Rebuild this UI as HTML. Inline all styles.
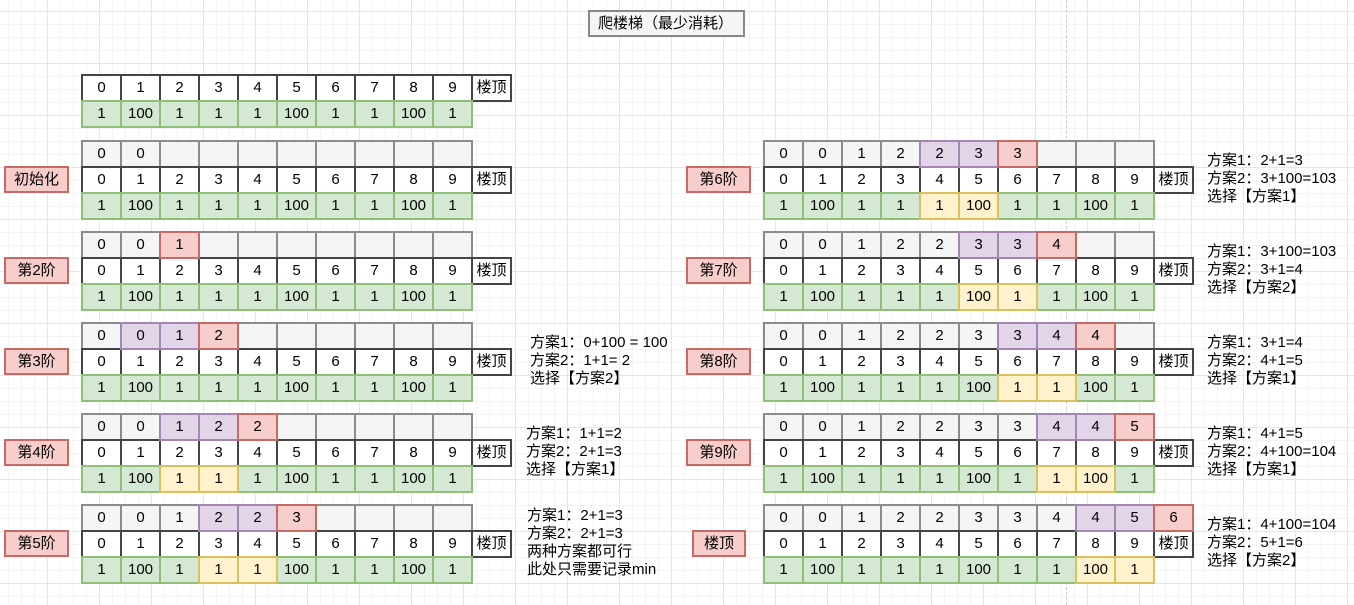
<!DOCTYPE html>
<html><head><meta charset="utf-8"><style>
body{margin:0;width:1354px;height:605px;overflow:hidden;position:relative;background:#fff;
background-image:linear-gradient(#e6e6e6 1px,transparent 1px),linear-gradient(90deg,#e6e6e6 1px,transparent 1px),linear-gradient(#f4f4f4 1px,transparent 1px),linear-gradient(90deg,#f4f4f4 1px,transparent 1px);
background-size:52px 52px,52px 52px,13px 13px,13px 13px;background-position:-3px 11px,-5px 11px,-3px 11px,-5px 11px;font-family:"Liberation Sans","Noto Sans CJK SC",sans-serif;color:#000}
.b{position:absolute}
.r{display:flex;height:28px;margin-bottom:-2px}
.c{width:41px;height:28px;margin-right:-2px;border:2px solid;box-sizing:border-box;text-align:center;line-height:24px;font-size:15px;position:relative}
.d{background:#f5f5f5;border-color:#8c8c8c}
.i{background:#fff;border-color:#444}
.g{background:#d5e8d4;border-color:#90bf78}
.p{background:#e1d5e7;border-color:#a386b3;z-index:2}
.x{background:#f8cecc;border-color:#c66a66;z-index:3}
.y{background:#fff2cc;border-color:#dcc060;z-index:2}
.lb{position:absolute;width:65px;height:27px;background:#f8cecc;border:2px solid #c66a66;box-sizing:border-box;text-align:center;line-height:23px;font-size:15px}
.t{position:absolute;font-size:15px;line-height:18px;white-space:nowrap}
</style></head><body>
<div style="position:absolute;left:1066px;top:0;height:605px;border-left:1px dashed #ccc"></div>
<div style="position:absolute;left:588px;top:10px;width:157px;height:27px;background:#f5f5f5;border:2px solid #888;box-sizing:border-box;font-size:15px;line-height:23px;padding-left:8px">爬楼梯（最少消耗）</div>

<div class="b" style="left:81px;top:74px">
<div class="r"><div class="c i">0</div><div class="c i">1</div><div class="c i">2</div><div class="c i">3</div><div class="c i">4</div><div class="c i">5</div><div class="c i">6</div><div class="c i">7</div><div class="c i">8</div><div class="c i">9</div><div class="c i">楼顶</div></div>
<div class="r"><div class="c g">1</div><div class="c g">100</div><div class="c g">1</div><div class="c g">1</div><div class="c g">1</div><div class="c g">100</div><div class="c g">1</div><div class="c g">1</div><div class="c g">100</div><div class="c g">1</div></div>
</div>

<div class="lb" style="left:4px;top:166px">初始化</div>
<div class="b" style="left:81px;top:140px">
<div class="r"><div class="c d">0</div><div class="c d">0</div><div class="c d"></div><div class="c d"></div><div class="c d"></div><div class="c d"></div><div class="c d"></div><div class="c d"></div><div class="c d"></div><div class="c d"></div></div>
<div class="r"><div class="c i">0</div><div class="c i">1</div><div class="c i">2</div><div class="c i">3</div><div class="c i">4</div><div class="c i">5</div><div class="c i">6</div><div class="c i">7</div><div class="c i">8</div><div class="c i">9</div><div class="c i">楼顶</div></div>
<div class="r"><div class="c g">1</div><div class="c g">100</div><div class="c g">1</div><div class="c g">1</div><div class="c g">1</div><div class="c g">100</div><div class="c g">1</div><div class="c g">1</div><div class="c g">100</div><div class="c g">1</div></div>
</div>

<div class="lb" style="left:4px;top:257px">第2阶</div>
<div class="b" style="left:81px;top:231px">
<div class="r"><div class="c d">0</div><div class="c d">0</div><div class="c x">1</div><div class="c d"></div><div class="c d"></div><div class="c d"></div><div class="c d"></div><div class="c d"></div><div class="c d"></div><div class="c d"></div></div>
<div class="r"><div class="c i">0</div><div class="c i">1</div><div class="c i">2</div><div class="c i">3</div><div class="c i">4</div><div class="c i">5</div><div class="c i">6</div><div class="c i">7</div><div class="c i">8</div><div class="c i">9</div><div class="c i">楼顶</div></div>
<div class="r"><div class="c g">1</div><div class="c g">100</div><div class="c g">1</div><div class="c g">1</div><div class="c g">1</div><div class="c g">100</div><div class="c g">1</div><div class="c g">1</div><div class="c g">100</div><div class="c g">1</div></div>
</div>

<div class="lb" style="left:4px;top:348px">第3阶</div>
<div class="b" style="left:81px;top:322px">
<div class="r"><div class="c d">0</div><div class="c p">0</div><div class="c p">1</div><div class="c x">2</div><div class="c d"></div><div class="c d"></div><div class="c d"></div><div class="c d"></div><div class="c d"></div><div class="c d"></div></div>
<div class="r"><div class="c i">0</div><div class="c i">1</div><div class="c i">2</div><div class="c i">3</div><div class="c i">4</div><div class="c i">5</div><div class="c i">6</div><div class="c i">7</div><div class="c i">8</div><div class="c i">9</div><div class="c i">楼顶</div></div>
<div class="r"><div class="c g">1</div><div class="c g">100</div><div class="c g">1</div><div class="c g">1</div><div class="c g">1</div><div class="c g">100</div><div class="c g">1</div><div class="c g">1</div><div class="c g">100</div><div class="c g">1</div></div>
</div>
<div class="t" style="left:530px;top:334px">方案1：0+100 = 100<br>方案2：1+1= 2<br>选择【方案2】</div>

<div class="lb" style="left:4px;top:439px">第4阶</div>
<div class="b" style="left:81px;top:413px">
<div class="r"><div class="c d">0</div><div class="c d">0</div><div class="c p">1</div><div class="c p">2</div><div class="c x">2</div><div class="c d"></div><div class="c d"></div><div class="c d"></div><div class="c d"></div><div class="c d"></div></div>
<div class="r"><div class="c i">0</div><div class="c i">1</div><div class="c i">2</div><div class="c i">3</div><div class="c i">4</div><div class="c i">5</div><div class="c i">6</div><div class="c i">7</div><div class="c i">8</div><div class="c i">9</div><div class="c i">楼顶</div></div>
<div class="r"><div class="c g">1</div><div class="c g">100</div><div class="c y">1</div><div class="c y">1</div><div class="c g">1</div><div class="c g">100</div><div class="c g">1</div><div class="c g">1</div><div class="c g">100</div><div class="c g">1</div></div>
</div>
<div class="t" style="left:526px;top:425px">方案1：1+1=2<br>方案2：2+1=3<br>选择【方案1】</div>

<div class="lb" style="left:4px;top:530px">第5阶</div>
<div class="b" style="left:81px;top:504px">
<div class="r"><div class="c d">0</div><div class="c d">0</div><div class="c d">1</div><div class="c p">2</div><div class="c p">2</div><div class="c x">3</div><div class="c d"></div><div class="c d"></div><div class="c d"></div><div class="c d"></div></div>
<div class="r"><div class="c i">0</div><div class="c i">1</div><div class="c i">2</div><div class="c i">3</div><div class="c i">4</div><div class="c i">5</div><div class="c i">6</div><div class="c i">7</div><div class="c i">8</div><div class="c i">9</div><div class="c i">楼顶</div></div>
<div class="r"><div class="c g">1</div><div class="c g">100</div><div class="c g">1</div><div class="c y">1</div><div class="c y">1</div><div class="c g">100</div><div class="c g">1</div><div class="c g">1</div><div class="c g">100</div><div class="c g">1</div></div>
</div>
<div class="t" style="left:527px;top:507px">方案1：2+1=3<br>方案2：2+1=3<br>两种方案都可行<br>此处只需要记录min</div>

<div class="lb" style="left:686px;top:166px">第6阶</div>
<div class="b" style="left:763px;top:140px">
<div class="r"><div class="c d">0</div><div class="c d">0</div><div class="c d">1</div><div class="c d">2</div><div class="c p">2</div><div class="c p">3</div><div class="c x">3</div><div class="c d"></div><div class="c d"></div><div class="c d"></div></div>
<div class="r"><div class="c i">0</div><div class="c i">1</div><div class="c i">2</div><div class="c i">3</div><div class="c i">4</div><div class="c i">5</div><div class="c i">6</div><div class="c i">7</div><div class="c i">8</div><div class="c i">9</div><div class="c i">楼顶</div></div>
<div class="r"><div class="c g">1</div><div class="c g">100</div><div class="c g">1</div><div class="c g">1</div><div class="c y">1</div><div class="c y">100</div><div class="c g">1</div><div class="c g">1</div><div class="c g">100</div><div class="c g">1</div></div>
</div>
<div class="t" style="left:1207px;top:152px">方案1：2+1=3<br>方案2：3+100=103<br>选择【方案1】</div>

<div class="lb" style="left:686px;top:257px">第7阶</div>
<div class="b" style="left:763px;top:231px">
<div class="r"><div class="c d">0</div><div class="c d">0</div><div class="c d">1</div><div class="c d">2</div><div class="c d">2</div><div class="c p">3</div><div class="c p">3</div><div class="c x">4</div><div class="c d"></div><div class="c d"></div></div>
<div class="r"><div class="c i">0</div><div class="c i">1</div><div class="c i">2</div><div class="c i">3</div><div class="c i">4</div><div class="c i">5</div><div class="c i">6</div><div class="c i">7</div><div class="c i">8</div><div class="c i">9</div><div class="c i">楼顶</div></div>
<div class="r"><div class="c g">1</div><div class="c g">100</div><div class="c g">1</div><div class="c g">1</div><div class="c g">1</div><div class="c y">100</div><div class="c y">1</div><div class="c g">1</div><div class="c g">100</div><div class="c g">1</div></div>
</div>
<div class="t" style="left:1207px;top:243px">方案1：3+100=103<br>方案2：3+1=4<br>选择【方案2】</div>

<div class="lb" style="left:686px;top:348px">第8阶</div>
<div class="b" style="left:763px;top:322px">
<div class="r"><div class="c d">0</div><div class="c d">0</div><div class="c d">1</div><div class="c d">2</div><div class="c d">2</div><div class="c d">3</div><div class="c p">3</div><div class="c p">4</div><div class="c x">4</div><div class="c d"></div></div>
<div class="r"><div class="c i">0</div><div class="c i">1</div><div class="c i">2</div><div class="c i">3</div><div class="c i">4</div><div class="c i">5</div><div class="c i">6</div><div class="c i">7</div><div class="c i">8</div><div class="c i">9</div><div class="c i">楼顶</div></div>
<div class="r"><div class="c g">1</div><div class="c g">100</div><div class="c g">1</div><div class="c g">1</div><div class="c g">1</div><div class="c g">100</div><div class="c y">1</div><div class="c y">1</div><div class="c g">100</div><div class="c g">1</div></div>
</div>
<div class="t" style="left:1207px;top:334px">方案1：3+1=4<br>方案2：4+1=5<br>选择【方案1】</div>

<div class="lb" style="left:686px;top:439px">第9阶</div>
<div class="b" style="left:763px;top:413px">
<div class="r"><div class="c d">0</div><div class="c d">0</div><div class="c d">1</div><div class="c d">2</div><div class="c d">2</div><div class="c d">3</div><div class="c d">3</div><div class="c p">4</div><div class="c p">4</div><div class="c x">5</div></div>
<div class="r"><div class="c i">0</div><div class="c i">1</div><div class="c i">2</div><div class="c i">3</div><div class="c i">4</div><div class="c i">5</div><div class="c i">6</div><div class="c i">7</div><div class="c i">8</div><div class="c i">9</div><div class="c i">楼顶</div></div>
<div class="r"><div class="c g">1</div><div class="c g">100</div><div class="c g">1</div><div class="c g">1</div><div class="c g">1</div><div class="c g">100</div><div class="c g">1</div><div class="c y">1</div><div class="c y">100</div><div class="c g">1</div></div>
</div>
<div class="t" style="left:1207px;top:425px">方案1：4+1=5<br>方案2：4+100=104<br>选择【方案1】</div>

<div class="lb" style="left:692px;top:530px;width:54px">楼顶</div>
<div class="b" style="left:763px;top:504px">
<div class="r"><div class="c d">0</div><div class="c d">0</div><div class="c d">1</div><div class="c d">2</div><div class="c d">2</div><div class="c d">3</div><div class="c d">3</div><div class="c d">4</div><div class="c p">4</div><div class="c p">5</div><div class="c x">6</div></div>
<div class="r"><div class="c i">0</div><div class="c i">1</div><div class="c i">2</div><div class="c i">3</div><div class="c i">4</div><div class="c i">5</div><div class="c i">6</div><div class="c i">7</div><div class="c i">8</div><div class="c i">9</div><div class="c i">楼顶</div></div>
<div class="r"><div class="c g">1</div><div class="c g">100</div><div class="c g">1</div><div class="c g">1</div><div class="c g">1</div><div class="c g">100</div><div class="c g">1</div><div class="c g">1</div><div class="c y">100</div><div class="c y">1</div></div>
</div>
<div class="t" style="left:1207px;top:516px">方案1：4+100=104<br>方案2：5+1=6<br>选择【方案2】</div>
</body></html>
